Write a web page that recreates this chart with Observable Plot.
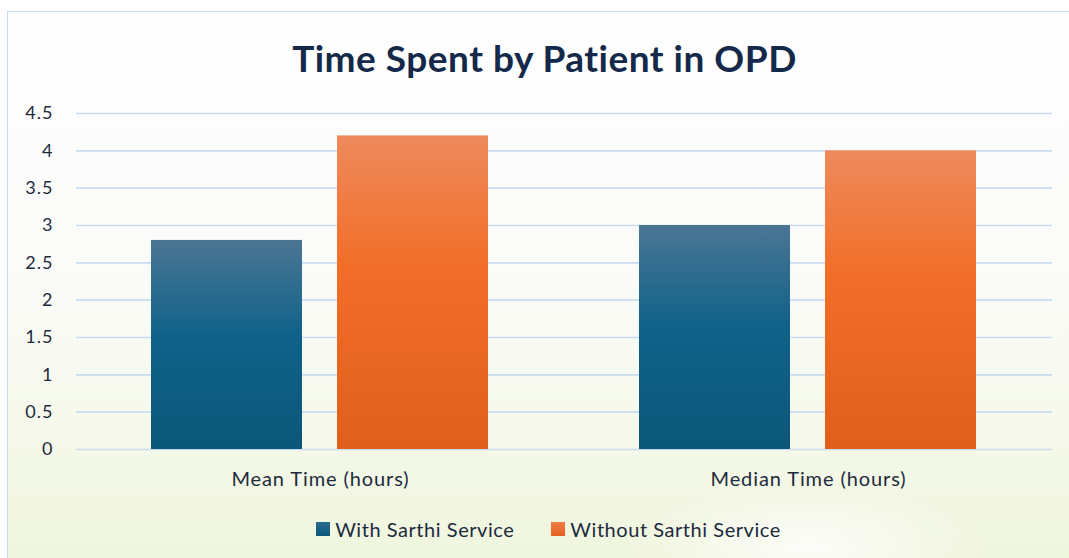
<!DOCTYPE html>
<html><head><meta charset="utf-8">
<script src="https://cdn.jsdelivr.net/npm/d3@7"></script>
<script src="https://cdn.jsdelivr.net/npm/@observablehq/plot@0.6"></script>
<style>
html,body{margin:0;padding:0;}
body{width:1069px;height:558px;overflow:hidden;background:#fff;font-family:Lato,"Open Sans",sans-serif;position:relative;}
#frame{position:absolute;left:7px;top:11px;width:1080px;height:560px;border:1.5px solid #c6daf0;box-sizing:border-box;
  background:
    radial-gradient(ellipse 180px 60px at 800px 535px, rgba(255,255,255,0.8), rgba(255,255,255,0)),
    linear-gradient(to bottom, #fdfefe 0%, #fbfcf9 45%, #f4f8e8 80%, #eff5dc 100%);}
#wrap{position:absolute;left:0;top:0;width:1069px;}
#title{height:95px;box-sizing:border-box;padding-top:36px;padding-left:20px;line-height:44px;text-align:center;font-size:37px;letter-spacing:0.5px;font-weight:bold;color:#14294a;}
#chart svg{display:block;}
#chart g[aria-label="fx-axis tick label"] text{letter-spacing:0.9px;}
#chart g[aria-label="y-axis tick label"] text{letter-spacing:1px;}
#legend{display:flex;justify-content:center;align-items:center;gap:37px;height:48px;font-size:20px;letter-spacing:0.55px;color:#1b2a3e;padding-left:28px;box-sizing:border-box;}
#legend .item{display:flex;align-items:center;gap:5px;}
#legend .sw{width:14px;height:14px;}
</style>
</head><body>
<div id="frame"></div>
<div id="wrap">
  <div id="title">Time Spent by Patient in OPD</div>
  <div id="chart"></div>
  <div id="legend"></div>
</div>
<script>
const categories = ["Mean Time (hours)", "Median Time (hours)"];
const series = ["With Sarthi Service", "Without Sarthi Service"];
const withSarthi = [2.8, 3.0];
const withoutSarthi = [4.2, 4.0];
const yTicks = [0, 0.5, 1, 1.5, 2, 2.5, 3, 3.5, 4, 4.5];

const data = [];
categories.forEach((c, i) => {
  data.push({category: c, series: series[0], value: withSarthi[i]});
  data.push({category: c, series: series[1], value: withoutSarthi[i]});
});

const font = "Lato, 'Open Sans', sans-serif";
const svg = Plot.plot({
  width: 1069, height: 410,
  marginTop: 18, marginBottom: 56, marginLeft: 75, marginRight: 17,
  style: {background: "transparent", fontFamily: font, color: "#1d2b3c", overflow: "visible"},
  fx: {domain: categories, paddingInner: 0, paddingOuter: 0, label: null},
  x: {domain: series, paddingInner: 0.187, paddingOuter: 0.3995, axis: null},
  y: {domain: [0, 4.5], label: null},
  color: {domain: series, range: ["url(#gBlue)", "url(#gOrange)"]},
  marks: [
    Plot.ruleY(yTicks, {stroke: "#c9dcf2", strokeWidth: 1.6}),
    Plot.barY(data, {fx: "category", x: "series", y: "value", fill: "series"}),
    Plot.axisY(yTicks, {tickSize: 0, tickPadding: 23, fontSize: 18, tickFormat: d => String(d), label: null, fill: "#1d2b3c"}),
    Plot.axisFx({anchor: "bottom", tickSize: 0, tickPadding: 22, fontSize: 20, label: null, fill: "#1d2b3c"})
  ]
});

const defs = d3.select(svg).insert("defs", ":first-child");
function grad(id, stops) {
  const g = defs.append("linearGradient").attr("id", id).attr("x1", 0).attr("y1", 0).attr("x2", 0).attr("y2", 1);
  stops.forEach(([o, c]) => g.append("stop").attr("offset", o).attr("stop-color", c));
}
grad("gBlue", [[0, "#4b7694"], [0.45, "#10628a"], [1, "#0b5779"]]);
grad("gOrange", [[0, "#ee8a5c"], [0.4, "#f26f2a"], [1, "#e05f1a"]]);
document.getElementById("chart").appendChild(svg);

const legend = document.getElementById("legend");
const swatchBg = ["linear-gradient(#2a6b8e,#0b5779)", "linear-gradient(#ef7d45,#e2621f)"];
series.forEach((s, i) => {
  const it = document.createElement("div");
  it.className = "item";
  const sw = document.createElement("div");
  sw.className = "sw";
  sw.style.background = swatchBg[i];
  const t = document.createElement("span");
  t.textContent = s;
  it.appendChild(sw); it.appendChild(t);
  legend.appendChild(it);
});
</script>
</body></html>
